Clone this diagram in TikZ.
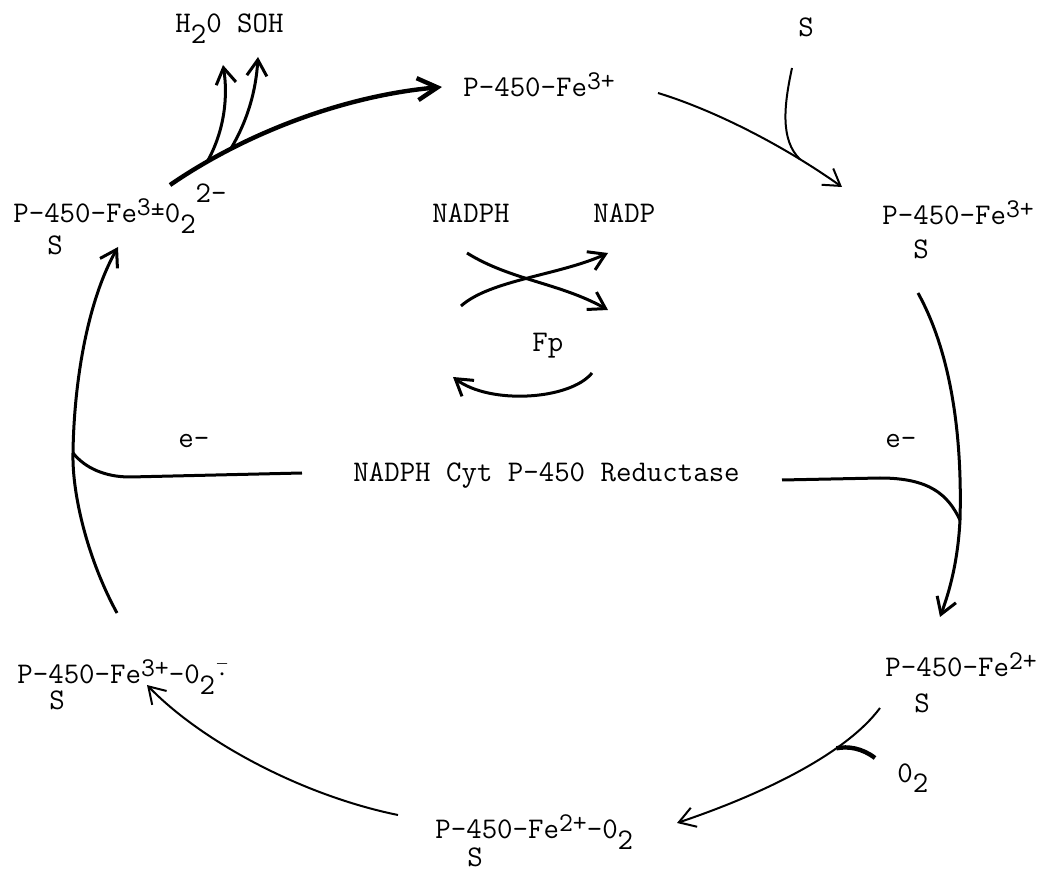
\documentclass[tikz,border=0pt]{standalone}
\usepackage{amsmath}
\usepackage{tikz}
\usetikzlibrary{arrows.meta}

% typewriter half-line shifts
\newcommand{\upch}[1]{\raisebox{3.5pt}{\fontsize{13.5}{14}\selectfont #1}}
\newcommand{\dnix}[1]{\raisebox{-5.5pt}{#1}}

\begin{document}
\begin{tikzpicture}[x=0.5pt, y=-0.5pt,
  lbl/.style={inner sep=0pt, anchor=base west, font=\fontsize{15}{18}\selectfont\ttfamily},
  arr/.style={-{Straight Barb[length=8pt, width=10pt]}, line width=1.5pt},
  thinarr/.style={arr, line width=1pt},
  heavyarr/.style={-{Straight Barb[length=10pt, width=11pt]}, line width=2.2pt},
  feed/.style={line width=1.5pt}]
\useasboundingbox (0,0) rectangle (1045,871);

% species round the cycle
\node[lbl] (fe3) at (463,97) {P-450-Fe\upch{3+}};
\node[lbl] (fe3s) at (882,225) {P-450-Fe\upch{3+}};
\node[lbl] (fe3sS) at (913,259) {S};
\node[lbl] (fe2s) at (885,676) {P-450-Fe\upch{2+}};
\node[lbl] (fe2sS) at (914,712) {S};
\node[lbl] (fe2o) at (435,838) {P-450-Fe\upch{2+}-0\dnix{2}};
\node[lbl] (fe2oS) at (467,866) {S};
\node[lbl] (fe3o) at (17,683) {P-450-Fe\upch{3+}-0\dnix{2}\kern1.5pt\raisebox{1pt}{$\bar{\cdot}$}};
\node[lbl] (fe3oS) at (49,710) {S};
\node[lbl] (per) at (13,223) {P-450-Fe\upch{3\textpm}0\dnix{2}\raisebox{10pt}{2-}};
\node[lbl] (perS) at (47,255) {S};

% substrates, products, reductase
\node[lbl] (prod) at (175,33) {H\dnix{2}0 SOH};
\node[lbl] (sub) at (798,37) {S};
\node[lbl] (oxy) at (897,782) {0\dnix{2}};
\node[lbl] (nadph) at (432,223) {NADPH};
\node[lbl] (nadp) at (593,223) {NADP};
\node[lbl] (fp) at (532,352) {Fp};
\node[lbl] (red) at (353,482) {NADPH Cyt P-450 Reductase};
\node[lbl] (eL) at (178,448) {e-};
\node[lbl] (eR) at (885,448) {e-};

% arrow ends
\coordinate (a1) at (170,185);  \coordinate (a2) at (442,87);
\coordinate (h2o) at (223,65);  \coordinate (soh) at (258,57);
\coordinate (b1) at (658,93);   \coordinate (b2) at (842,187);
\coordinate (s1) at (792,68);
\coordinate (r1) at (918,293);  \coordinate (jr) at (960,520);  \coordinate (r2) at (940,617);
\coordinate (er) at (782,480);
\coordinate (c1) at (880,708);  \coordinate (c2) at (677,823);
\coordinate (o1) at (875,758);
\coordinate (d1) at (398,815);  \coordinate (d2) at (147,685);
\coordinate (l1) at (117,613);  \coordinate (jl) at (73,453);   \coordinate (l2) at (118,247);
\coordinate (el) at (302,473);
\coordinate (na1) at (467,253); \coordinate (na2) at (608,310);
\coordinate (nb1) at (461,306); \coordinate (nb2) at (608,253);
\coordinate (f1) at (592,373);  \coordinate (f2) at (453,377);

% cycle
\draw[heavyarr] (a1) .. controls (250,130) and (350,95) .. (a2)
  coordinate[pos=0.15] (jw) coordinate[pos=0.24] (js);
\draw[arr] (jw) .. controls (225,130) and (228,95) .. (h2o);
\draw[arr] (js) .. controls (248,120) and (256,90) .. (soh);
\draw[thinarr] (b1) .. controls (720,112) and (790,150) .. (b2) coordinate[pos=0.75] (jb);
\draw[line width=1pt] (s1) .. controls (784,105) and (780,140) .. (jb);
\draw[arr] (r1) .. controls (955,360) and (962,450) .. (jr) .. controls (958,560) and (950,590) .. (r2);
\draw[feed] (er) -- (880,478) .. controls (930,478) and (948,495) .. (jr);
\draw[thinarr] (c1) .. controls (845,755) and (760,795) .. (c2) coordinate[pos=0.3] (jo);
\draw[line width=2.2pt] (o1) .. controls (862,748) and (848,746) .. (jo);
\draw[thinarr] (d1) .. controls (300,795) and (200,740) .. (d2);
\draw[arr] (l1) .. controls (88,560) and (72,495) .. (jl) .. controls (74,380) and (88,300) .. (l2);
\draw[feed] (el) -- (130,477) .. controls (105,477) and (85,468) .. (jl);

% flavoprotein
\draw[arr] (na1) .. controls (510,280) and (560,283) .. (na2);
\draw[arr] (nb1) .. controls (490,280) and (560,275) .. (nb2);
\draw[arr] (f1) .. controls (570,400) and (490,405) .. (f2);
\end{tikzpicture}
\end{document}
